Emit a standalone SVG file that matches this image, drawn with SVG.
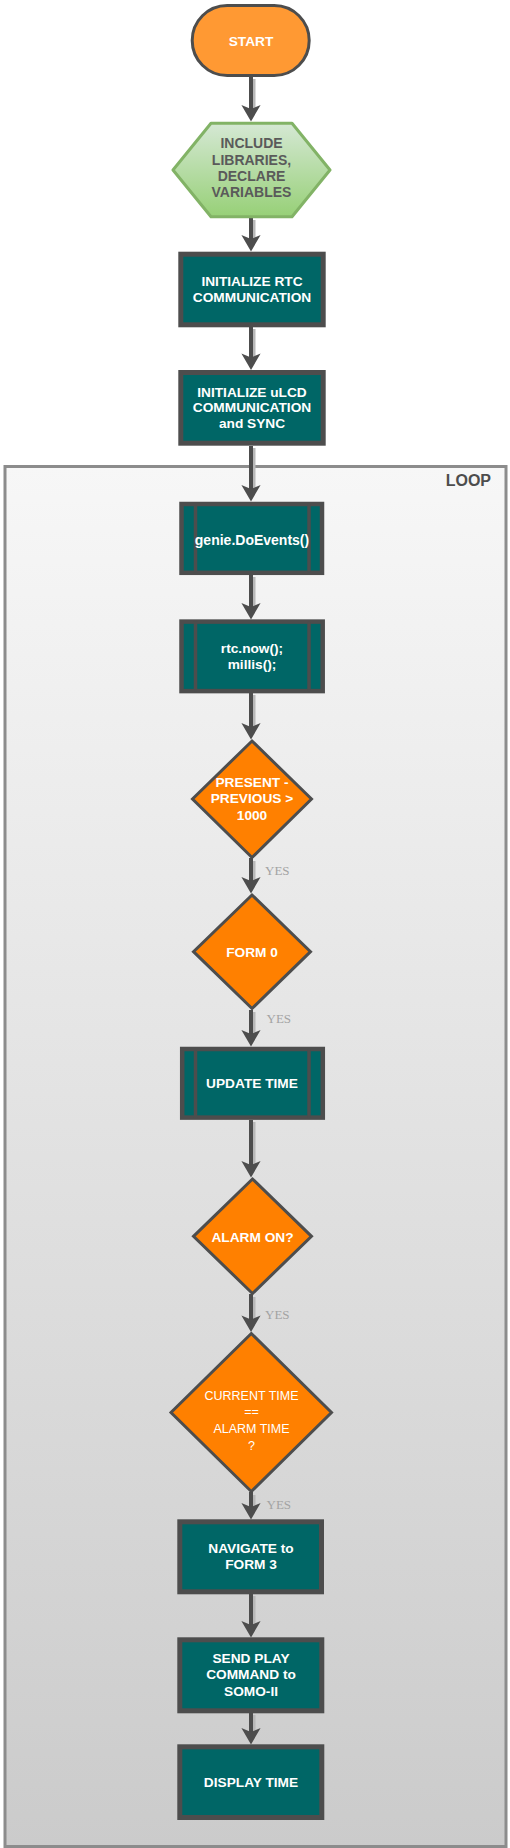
<svg xmlns="http://www.w3.org/2000/svg" xmlns:xlink="http://www.w3.org/1999/xlink" width="510" height="1848" viewBox="0 0 510 1848">
<defs>
<linearGradient id="gLoop" x1="0" y1="0" x2="0" y2="1"><stop offset="0" stop-color="#f7f7f7"/><stop offset="1" stop-color="#cbcbcb"/></linearGradient>
<linearGradient id="gHex" x1="0" y1="0" x2="0" y2="1"><stop offset="0" stop-color="#d5e8d4"/><stop offset="1" stop-color="#97d077"/></linearGradient>
<path id="ah" d="M0,0 L-9.6,-16.5 L0,-12.4 L9.6,-16.5 Z" fill="#4d4d4d"/>
<style>
.t{font-family:"Liberation Sans",Arial,sans-serif;font-weight:bold;font-size:13.7px;fill:#ffffff;text-anchor:middle}
.tn{font-family:"Liberation Sans",Arial,sans-serif;font-size:12.5px;fill:#ffffff;text-anchor:middle}
.th{font-family:"Liberation Sans",Arial,sans-serif;font-weight:bold;font-size:14px;fill:#5a5a5a;text-anchor:middle}
.yes{font-family:"Liberation Serif","Times New Roman",serif;font-size:13px;fill:#a3a3a3}
.box{fill:#006666;stroke:#4d4d4d;stroke-width:5}
.pbox{fill:#006666;stroke:#4d4d4d;stroke-width:4.5}
.vl{stroke:#4d4d4d;stroke-width:3.5}
.dia{fill:#ff8000;stroke:#4d4d4d;stroke-width:3;stroke-linejoin:miter}
.ln{stroke:#4d4d4d;stroke-width:4;fill:none}
.sh{stroke:#b8b8b8;stroke-width:3;fill:none}
</style>
</defs>

<g id="loop">
<rect x="5" y="466.5" width="501" height="1380" fill="url(#gLoop)" stroke="#8c8c8c" stroke-width="3"/>
<text x="491" y="486" style="font-family:'Liberation Sans',Arial,sans-serif;font-weight:bold;font-size:16px;fill:#4d4d4d;text-anchor:end">LOOP</text>
</g>

<g id="connectors">
<g class="sh">
<line x1="254" y1="79" x2="254" y2="110"/>
<line x1="254" y1="220" x2="254" y2="240"/>
<line x1="254" y1="329" x2="254" y2="358"/>
<line x1="254" y1="448" x2="254" y2="490"/>
<line x1="254" y1="577" x2="254" y2="607"/>
<line x1="254" y1="695" x2="254" y2="727"/>
<line x1="254" y1="861" x2="254" y2="881"/>
<line x1="254" y1="1012" x2="254" y2="1035"/>
<line x1="254" y1="1122" x2="254" y2="1165"/>
<line x1="254" y1="1297" x2="254" y2="1320"/>
<line x1="254" y1="1495" x2="254" y2="1507"/>
<line x1="254" y1="1596" x2="254" y2="1625"/>
<line x1="254" y1="1715" x2="254" y2="1732"/>
</g>
<g class="ln">
<line x1="251" y1="77" x2="251" y2="110"/>
<line x1="251" y1="218" x2="251" y2="240"/>
<line x1="251" y1="327" x2="251" y2="358"/>
<line x1="251" y1="446" x2="251" y2="490"/>
<line x1="251" y1="575" x2="251" y2="607"/>
<line x1="251" y1="693" x2="251" y2="727"/>
<line x1="251" y1="858" x2="251" y2="881"/>
<line x1="251" y1="1010" x2="251" y2="1035"/>
<line x1="251" y1="1120" x2="251" y2="1165"/>
<line x1="251" y1="1294" x2="251" y2="1320"/>
<line x1="251" y1="1492" x2="251" y2="1507"/>
<line x1="251" y1="1594" x2="251" y2="1625"/>
<line x1="251" y1="1713" x2="251" y2="1732"/>
</g>
<use xlink:href="#ah" x="251" y="121.5"/>
<use xlink:href="#ah" x="251" y="251.5"/>
<use xlink:href="#ah" x="251" y="370"/>
<use xlink:href="#ah" x="251" y="501.5"/>
<use xlink:href="#ah" x="251" y="619.5"/>
<use xlink:href="#ah" x="251" y="739.5"/>
<use xlink:href="#ah" x="251" y="893.5"/>
<use xlink:href="#ah" x="251" y="1046.5"/>
<use xlink:href="#ah" x="251" y="1177.5"/>
<use xlink:href="#ah" x="251" y="1332"/>
<use xlink:href="#ah" x="251" y="1519.5"/>
<use xlink:href="#ah" x="251" y="1637.5"/>
<use xlink:href="#ah" x="251" y="1744.5"/>
<text class="yes" x="265" y="875">YES</text>
<text class="yes" x="266.5" y="1023">YES</text>
<text class="yes" x="265" y="1319">YES</text>
<text class="yes" x="266.5" y="1509">YES</text>
</g>

<g id="start">
<rect x="192.2" y="5.5" width="117" height="70" rx="35" ry="35" fill="#ff9933" stroke="#4d4d4d" stroke-width="3"/>
<text class="t" x="251" y="46">START</text>
</g>

<g id="include">
<path d="M173,170 L211,123.2 L292,123.2 L330,170 L292,216.8 L211,216.8 Z" fill="url(#gHex)" stroke="#82b366" stroke-width="3" stroke-linejoin="round"/>
<text class="th" x="251.5" y="148">INCLUDE</text>
<text class="th" x="251.5" y="164.5">LIBRARIES,</text>
<text class="th" x="251.5" y="181">DECLARE</text>
<text class="th" x="251.5" y="197">VARIABLES</text>
</g>

<g id="initRTC">
<rect class="box" x="180.8" y="254.2" width="142.4" height="70.6"/>
<text class="t" x="252" y="285.5">INITIALIZE RTC</text>
<text class="t" x="252" y="301.5">COMMUNICATION</text>
</g>

<g id="initLCD">
<rect class="box" x="180.8" y="372.5" width="142.4" height="70.7"/>
<text class="t" x="252" y="396.5">INITIALIZE uLCD</text>
<text class="t" x="252" y="412">COMMUNICATION</text>
<text class="t" x="252" y="428">and SYNC</text>
</g>

<g id="doEvents">
<rect class="pbox" x="181.5" y="504" width="140.5" height="68.8"/>
<line class="vl" x1="195.5" y1="504" x2="195.5" y2="572.8"/>
<line class="vl" x1="309" y1="504" x2="309" y2="572.8"/>
<text class="t" x="252" y="545" style="font-size:14px">genie.DoEvents()</text>
</g>

<g id="rtcNow">
<rect class="pbox" x="181.5" y="621.6" width="141.2" height="69.5"/>
<line class="vl" x1="195.5" y1="621.6" x2="195.5" y2="691.1"/>
<line class="vl" x1="309" y1="621.6" x2="309" y2="691.1"/>
<text class="t" x="252" y="653">rtc.now();</text>
<text class="t" x="252" y="669">millis();</text>
</g>

<g id="present">
<path class="dia" d="M252,741 L311.5,799 L252,857.5 L192.5,799 Z"/>
<text class="t" x="252" y="786.5">PRESENT -</text>
<text class="t" x="252" y="803">PREVIOUS &gt;</text>
<text class="t" x="252" y="819.5">1000</text>
</g>

<g id="form0">
<path class="dia" d="M252,895 L310.5,951.7 L252,1008.5 L193.5,951.7 Z"/>
<text class="t" x="252" y="957">FORM 0</text>
</g>

<g id="updateTime">
<rect class="pbox" x="182.2" y="1049" width="140.6" height="68.6"/>
<line class="vl" x1="195.5" y1="1049" x2="195.5" y2="1117.6"/>
<line class="vl" x1="309" y1="1049" x2="309" y2="1117.6"/>
<text class="t" x="252" y="1087.5">UPDATE TIME</text>
</g>

<g id="alarmOn">
<path class="dia" d="M252.5,1179 L311.5,1236.3 L252.5,1293.5 L193.5,1236.3 Z"/>
<text class="t" x="252.5" y="1241.5">ALARM ON?</text>
</g>

<g id="currentTime">
<path class="dia" d="M251.3,1333.5 L331.5,1412.5 L251.3,1491.5 L171,1412.5 Z"/>
<text class="tn" x="251.5" y="1399.5">CURRENT TIME</text>
<text class="tn" x="251.5" y="1416">==</text>
<text class="tn" x="251.5" y="1432.5">ALARM TIME</text>
<text class="tn" x="251.5" y="1449.5">?</text>
</g>

<g id="navigate">
<rect class="box" x="179.8" y="1521.8" width="141.7" height="70"/>
<text class="t" x="251" y="1553">NAVIGATE to</text>
<text class="t" x="251" y="1569">FORM 3</text>
</g>

<g id="sendPlay">
<rect class="box" x="179.8" y="1639.8" width="142" height="71"/>
<text class="t" x="251" y="1663">SEND PLAY</text>
<text class="t" x="251" y="1679">COMMAND to</text>
<text class="t" x="251" y="1695.5">SOMO-II</text>
</g>

<g id="displayTime">
<rect class="box" x="179.8" y="1746.8" width="142" height="70.7"/>
<text class="t" x="251" y="1787">DISPLAY TIME</text>
</g>
</svg>
